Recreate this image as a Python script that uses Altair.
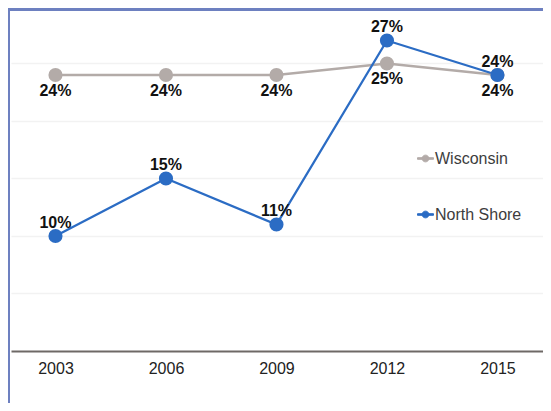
import altair as alt
import pandas as pd

years = [2003, 2006, 2009, 2012, 2015]
series = ["Wisconsin", "North Shore"]
wisconsin = [24, 24, 24, 25, 24]
north_shore = [10, 15, 11, 27, 24]
colors = ["#b3aba8", "#2b6cc4"]

rows = []
for s, vals in zip(series, [wisconsin, north_shore]):
    for yr, v in zip(years, vals):
        rows.append({"year": yr, "series": s, "value": v, "label": f"{v}%"})
df = pd.DataFrame(rows)

W, H = 532, 340
FONT = "Liberation Sans"

x = alt.X(
    "year:Q",
    scale=alt.Scale(domain=[2001.792, 2016.237], nice=False, zero=False),
    axis=alt.Axis(values=years, format="d", title=None, ticks=False, grid=False,
                  domainColor="#6e6966", domainWidth=2, labelFont=FONT,
                  labelFontSize=16, labelColor="#222222", labelPadding=9),
)
y = alt.Y(
    "value:Q",
    scale=alt.Scale(domain=[0, 29.565], nice=False, zero=False),
    axis=alt.Axis(values=[5, 10, 15, 20, 25], title=None, labels=False, ticks=False,
                  domain=False, grid=True, gridColor="#f2f2f2", gridWidth=1.5),
)
color_scale = alt.Scale(domain=series, range=colors)

SYMBOL = ("M-1,-0.1H1V0.1H-1Z "
          "M0.42,0A0.42,0.42,0,1,1,-0.42,0A0.42,0.42,0,1,1,0.42,0Z")

legend = alt.Legend(orient="none", legendX=406, legendY=139, title=None,
                    symbolType=SYMBOL, symbolSize=256, symbolStrokeWidth=1,
                    symbolOpacity=1, labelFont=FONT, labelFontSize=16,
                    labelColor="#3d3d3d", rowPadding=39, labelOffset=1, padding=0)

color = alt.Color("series:N", scale=color_scale, legend=legend)

lines = alt.Chart(df).mark_line(strokeWidth=2.3).encode(
    x=x, y=y, color=color, detail="series:N")

points = alt.Chart(df).mark_circle(size=200, opacity=1).encode(
    x=x, y=y, color=color)

wis_text = alt.Chart(df).transform_filter(alt.datum.series == "Wisconsin").mark_text(
    dy=16, font=FONT, fontSize=16, fontWeight="bold", color="#111111",
    baseline="middle").encode(x=x, y=y, text="label:N")

ns_text = alt.Chart(df).transform_filter(alt.datum.series == "North Shore").mark_text(
    dy=-13, font=FONT, fontSize=16, fontWeight="bold", color="#111111",
    baseline="middle").encode(x=x, y=y, text="label:N")

border_data = alt.Data(values=[{"a": 1}])
left_border = alt.Chart(border_data).mark_rule(color="#6d80c0", strokeWidth=3).encode(
    x=alt.value(-2.5), y=alt.value(-3), y2=alt.value(400))
top_border = alt.Chart(border_data).mark_rule(color="#6d80c0", strokeWidth=3).encode(
    x=alt.value(-4), x2=alt.value(540), y=alt.value(-1.5))

chart = alt.layer(
    lines, points, wis_text, ns_text, left_border, top_border
).properties(
    width=W, height=H,
    padding={"left": 3, "top": 3, "right": 0, "bottom": 52},
    autosize=alt.AutoSizeParams(type="none"),
).configure_view(stroke="transparent")

chart.save("out.html", embed_options={"renderer": "svg", "actions": False})
